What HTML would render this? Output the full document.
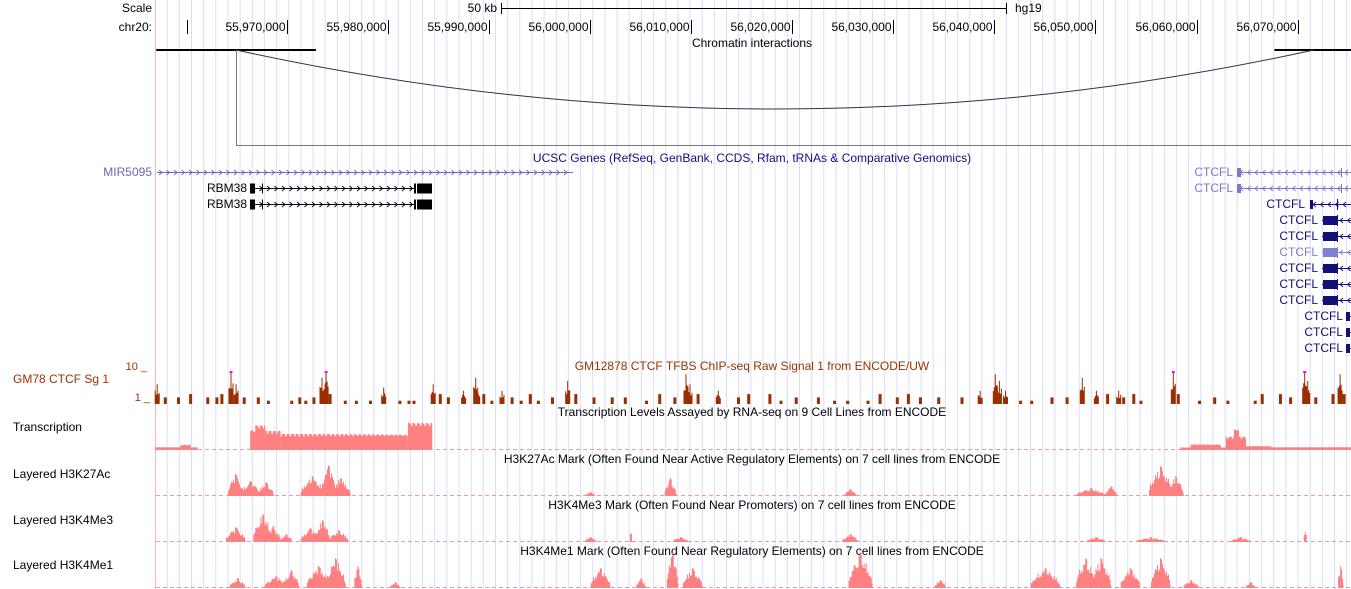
<!DOCTYPE html>
<html><head><meta charset="utf-8"><style>
html,body{margin:0;padding:0;background:#fff;}
svg{display:block;font-family:"Liberation Sans",sans-serif;}
text{font-size:12px;}
</style></head><body>
<svg id="c" width="1351" height="589" viewBox="0 0 1351 589" xmlns="http://www.w3.org/2000/svg">
<g id="grid"></g>
<line x1="155.5" y1="0" x2="155.5" y2="589" stroke="#ffb0b0"/>
<text x="152" y="12" text-anchor="end">Scale</text>
<text x="152" y="31" text-anchor="end">chr20:</text>
<text x="497" y="12" text-anchor="end">50 kb</text>
<text x="1015" y="12">hg19</text>
<g id="ruler"></g>
<text x="752" y="47" text-anchor="middle">Chromatin interactions</text>
<g id="chrom"></g>
<text x="752" y="162" text-anchor="middle" fill="#101080">UCSC Genes (RefSeq, GenBank, CCDS, Rfam, tRNAs &amp; Comparative Genomics)</text>
<g id="genes"></g>
<text x="147" y="370" text-anchor="end" fill="#993300" style="font-size:11px">10 _</text>
<text x="150" y="401" text-anchor="end" fill="#993300" style="font-size:11px">1 _</text>
<text x="13" y="383" fill="#993300">GM78 CTCF Sg 1</text>
<text x="752" y="370" text-anchor="middle" fill="#993300">GM12878 CTCF TFBS ChIP-seq Raw Signal 1 from ENCODE/UW</text>
<g id="ctcf"></g>
<text x="13" y="431">Transcription</text>
<text x="752" y="416" text-anchor="middle">Transcription Levels Assayed by RNA-seq on 9 Cell Lines from ENCODE</text>
<text x="13" y="478">Layered H3K27Ac</text>
<text x="752" y="463" text-anchor="middle">H3K27Ac Mark (Often Found Near Active Regulatory Elements) on 7 cell lines from ENCODE</text>
<text x="13" y="524">Layered H3K4Me3</text>
<text x="752" y="509" text-anchor="middle">H3K4Me3 Mark (Often Found Near Promoters) on 7 cell lines from ENCODE</text>
<text x="13" y="569">Layered H3K4Me1</text>
<text x="752" y="555" text-anchor="middle">H3K4Me1 Mark (Often Found Near Regulatory Elements) on 7 cell lines from ENCODE</text>
<g id="tracks"></g>
</svg>
<script>
// positions in kb offset from chr20:55,957,000
const rulerTicks = [ -7, 13, 23, 33, 43, 53, 63, 73, 83, 93, 103, 113 ];
const rulerLabels = ["", "55,970,000","55,980,000","55,990,000","56,000,000","56,010,000","56,020,000","56,030,000","56,040,000","56,050,000","56,060,000","56,070,000"];
const rulerMinor = [3.1];
const ctcfPos = [0.2,1.0,2.3,3.5,5.2,6.1,6.6,7.5,8.0,8.8,10.2,11.2,13.5,14.3,14.9,15.7,16.5,16.9,17.3,18.8,19.9,21.3,22.6,24.2,25.1,25.6,27.5,28.2,29.0,30.5,31.7,31.9,32.5,33.3,34.3,35.3,36.2,37.1,37.9,39.3,40.8,41.6,43.4,45.2,46.5,48.6,49.9,51.4,52.5,52.9,53.7,55.7,57.7,58.7,60.8,61.9,63.4,65.6,67.2,68.5,70.5,71.7,73.4,74.5,75.7,77.5,79.8,81.6,83.1,83.5,84.1,85.6,86.7,88.7,90.2,91.7,93.1,94.2,95.3,95.8,96.8,97.5,100.7,101.2,103.3,104.8,106.1,108.8,109.5,111.3,112.3,113.7,114.0,114.8,116.5,117.2,117.6];
const ctcfVal = [6,2,2,3,2,2,3,10,6,2,2,1,1,2,1,2,8,10,3,1,1,1,5,1,1,1,6,3,2,4,8,5,3,1,4,2,1,3,1,2,7,3,2,2,2,1,3,2,9,6,3,4,2,3,3,1,2,2,1,1,1,3,2,3,2,2,2,4,9,7,4,1,1,2,2,8,4,3,4,2,3,1,10,3,1,2,1,1,3,3,2,10,7,2,3,9,3];
const txStart = [0,2.5,9.4,9.9,10.9,12.4,25.0,101.4,102.4,105.9,106.7,107.9];
const txEnd   = [4.2,3.5,9.9,10.9,12.4,25.0,27.4,118.3,105.4,107.9,107.2,110.4];
const txVal   = [10,18,70,85,65,55,95,10,20,45,75,15];
const k27Pos = [7.9,9.4,10.9,15.5,17.1,18.3,43.0,50.9,68.7,92.5,94.5,99.4,100.9];
const k27Wid = [0.8,1.0,0.8,1.2,0.8,1.0,0.5,0.6,0.6,1.5,0.6,1.2,0.8];
const k27Val = [22,15,14,20,31,18,4,18,7,8,10,30,20];
const me3Pos = [7.9,10.6,11.6,12.9,15.3,16.5,18.1,43.0,47.0,51.9,68.7,93.0,98.4,107.3,113.7];
const me3Wid = [1.0,1.0,0.8,0.6,1.0,0.8,1.0,0.6,0.15,0.8,0.8,1.0,1.5,1.0,0.2];
const me3Val = [15,28,16,8,14,22,12,5,10,5,8,5,5,5,10];
const me1Pos = [8.1,11.9,13.4,16.1,17.8,20.0,23.7,44.0,48.0,51.1,53.1,69.7,77.6,88.0,92.0,93.5,96.4,99.4,102.4,108.3,117.2];
const me1Wid = [0.8,1.2,0.8,1.2,1.0,0.4,0.5,1.0,0.5,0.6,1.0,1.2,0.6,1.5,1.0,1.0,1.0,1.0,0.8,0.5,0.3];
const me1Val = [10,12,18,22,30,22,6,20,10,35,20,35,8,20,30,30,20,30,8,6,22];

const NS="http://www.w3.org/2000/svg";
const X = kb => 155.2 + kb*10.11;
function mk(parent, tag, attrs){const e=document.createElementNS(NS,tag);for(const k in attrs)e.setAttribute(k,attrs[k]);parent.appendChild(e);return e;}
// deterministic texture factor (not data)
const jag = x => 0.62 + 0.38*Math.abs(Math.sin(x*1.37)*Math.cos(x*0.53));

const grid=document.getElementById('grid');
for(let x=155+12.16;x<1351;x+=12.16){
  const l=mk(grid,'line',{x1:x.toFixed(1),y1:0,x2:x.toFixed(1),y2:589,stroke:'#dcdcfa','stroke-width':1});
  
  
}
const ruler=document.getElementById('ruler');
const sb=mk(ruler,'path',{d:'M501.5 3V14M501.5 8.5H1006.5M1006.5 3V14',stroke:'#000',fill:'none'});


rulerTicks.forEach((kb,i)=>{
  if(i===0) return;
  const x=Math.round(X(kb))+0.5;
  const t=mk(ruler,'line',{x1:x,y1:20,x2:x,y2:34,stroke:'#000'});
  
  
  const tx=mk(ruler,'text',{x:x-2,y:31,'text-anchor':'end'});tx.textContent=rulerLabels[i];
  
  
});
rulerMinor.forEach(kb=>{const x=Math.round(X(kb))+0.5;const t=mk(ruler,'line',{x1:x,y1:20,x2:x,y2:34,stroke:'#000'});
  
  });

const ch=document.getElementById('chrom');
const a1=X(8.0), a2=X(114.6);
[[X(0.1),X(15.9)],[X(110.7),1351]].forEach(r=>{const l=mk(ch,'line',{x1:r[0],y1:50,x2:r[1],y2:50,stroke:'#000','stroke-width':2});
  
  });
const arc=mk(ch,'path',{d:`M${a1} 50 Q${(a1+a2)/2} 168 ${a2} 50`,stroke:'#333',fill:'none'});


const br=mk(ch,'path',{d:`M${Math.round(a1)+0.5} 50V145.5H1351`,stroke:'#777',fill:'none'});



const g=document.getElementById('genes');
function chevrons(x1,x2,y,dir,color){
  for(let x=x1+4;x<x2-2;x+=7.5){
    const d = dir>0 ? `M${x-2} ${y-2.5}L${x+1} ${y}L${x-2} ${y+2.5}` : `M${x+2} ${y-2.5}L${x-1} ${y}L${x+2} ${y+2.5}`;
    mk(g,'path',{d,stroke:color,fill:'none','stroke-width':0.9});
  }
}
function gene(label,labelEnd,y,x1,x2,dir,color,boxes){
  const t=mk(g,'text',{x:labelEnd,y:y+4,'text-anchor':'end',fill:color});t.textContent=label;
  
  
  const l=mk(g,'line',{x1,y1:y+0.5,x2,y2:y+0.5,stroke:color});
  
  
  chevrons(x1,x2,y+0.5,dir,color);
  boxes.forEach(b=>{const r=mk(g,'rect',{x:b[0],y:y-b[2]/2+0.5,width:b[1]-b[0],height:b[2],fill:color});
    
    });
}
gene('MIR5095',152,172,157,573,1,'#6a6ab8',[]);
gene('RBM38',247,188,250,415,1,'#000',[[250,255,10],[262,263,10],[414,416,10],[417,432,10]]);
gene('RBM38',247,204,250,415,1,'#000',[[250,255,10],[262,263,10],[414,416,10],[417,432,10]]);
const lc='#7878cc', dc='#101077';
gene('CTCFL',1233,172,1237,1351,-1,lc,[[1237,1241,9],[1341,1342,9]]);
gene('CTCFL',1233,188,1237,1351,-1,lc,[[1237,1241,9],[1341,1342,9]]);
gene('CTCFL',1305,204,1310,1351,-1,dc,[[1310,1313,9],[1337,1338,11]]);
['d','d','l','d','d','d'].forEach((c,i)=>{const col=c==='l'?'#8080d0':dc;gene('CTCFL',1318,220+16*i,1322,1351,-1,col,[[1323,1337,9],[1337,1338,11]]);});
[316,332,348].forEach(y=>gene('CTCFL',1343,y,1346,1351,-1,dc,[[1346,1350,9]]));

// CTCF bars
const ct=document.getElementById('ctcf');
const ctY = v => 404 - v*3.3;
ctcfPos.forEach((kb,i)=>{
  const v=ctcfVal[i], x=X(kb);
  const w = v>=4 ? 5 : 3;
  let d=`M${(x-w/2).toFixed(1)} 404`;
  for(let k=0;k<w;k++){
    const xx=x-w/2+k;
    const f = v>=4 ? (Math.abs(k-(w-1)/2)<0.6 ? 1 : jag(xx)*0.7) : 1;
    const y=404-(404-ctY(v))*f;
    d+=`L${xx.toFixed(1)} ${y.toFixed(1)}L${(xx+1).toFixed(1)} ${y.toFixed(1)}`;
  }
  d+=`L${(x+w/2).toFixed(1)} 404Z`;
  const r=mk(ct,'path',{d,fill:'#992e00'});
  
  
  if(v>=10){const m=mk(ct,'rect',{x:(x-1.5).toFixed(1),y:ctY(v).toFixed(1),width:3,height:2,fill:'#ff00ff'});
    
    }
});

const tr=document.getElementById('tracks');
function baseline(y){const l=mk(tr,'line',{x1:156,y1:y-0.5,x2:1351,y2:y-0.5,stroke:'#e0a0a8','stroke-dasharray':'4 3','stroke-width':1});
  
  }
const txBase=450, txY=v=>txBase - v*0.3;
baseline(txBase);
txStart.forEach((s,i)=>{
  const x0=X(s), x1=X(txEnd[i]), h=txBase-txY(txVal[i]);
  let d=`M${x0.toFixed(1)} ${txBase}`;
  for(let x=x0;x<x1;x+=1.5){
    const y=txBase-h*(0.82+0.18*Math.abs(Math.sin(x*2.1)*Math.cos(x*0.7)));
    d+=`L${x.toFixed(1)} ${y.toFixed(1)}L${Math.min(x+1.5,x1).toFixed(1)} ${y.toFixed(1)}`;
  }
  d+=`L${x1.toFixed(1)} ${txBase}Z`;
  const r=mk(tr,'path',{d,fill:'#ff8080'});
  
  
});
function peaks(pos,wid,val,base,scale,name){
  baseline(base);
  pos.forEach((c,i)=>{
    const x0=X(c-wid[i]), x1=X(c+wid[i]), xc=X(c), hw=(x1-x0)/2;
    let d=`M${x0.toFixed(1)} ${base}`;
    for(let x=x0;x<=x1;x+=1){
      const f=Math.max(0,1-Math.abs(x-xc)/hw);
      const h=val[i]*scale*Math.sqrt(f)*(Math.abs(x-xc)<1?1:jag(x));
      d+=`L${x.toFixed(1)} ${(base-h).toFixed(1)}L${(x+1).toFixed(1)} ${(base-h).toFixed(1)}`;
    }
    d+=`L${x1.toFixed(1)} ${base}Z`;
    const p=mk(tr,'path',{d,fill:'#ff8080'});
    
    
  });
}
peaks(k27Pos,k27Wid,k27Val,496,1,'h3k27ac-peak');
peaks(me3Pos,me3Wid,me3Val,542,1,'h3k4me3-peak');
peaks(me1Pos,me1Wid,me1Val,588,1,'h3k4me1-peak');
</script>
</body></html>
